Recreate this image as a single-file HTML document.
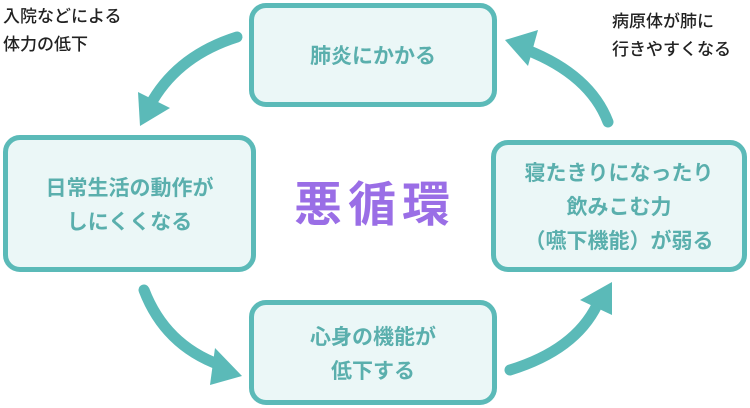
<!DOCTYPE html>
<html><head><meta charset="utf-8"><style>
body{margin:0;width:750px;height:408px;background:#fff;position:relative;overflow:hidden;font-family:"Liberation Sans","Noto Sans CJK JP",sans-serif}
.b{position:absolute;box-sizing:border-box;border:5px solid #5bbab8;background:#ebf7f7;border-radius:17px;display:flex;align-items:center;justify-content:center;text-align:center;color:#5aafad;font-size:21px;font-weight:bold;line-height:34px;font-family:"Noto Sans CJK JP",sans-serif}
.t{position:absolute;font-size:17px;color:#222;line-height:28px;font-weight:500;font-family:"Noto Sans CJK JP",sans-serif}
</style></head><body>
<svg width="750" height="408" style="position:absolute;left:0;top:0">
<g fill="none" stroke="#5bbab8" stroke-width="11" stroke-linecap="round">
<path d="M237 37 Q180 55 153 100"/>
<path d="M608 122 Q590 75 527 50"/>
<path d="M144 290 Q165 345 220 365"/>
<path d="M510 370 Q575 350 597 305"/>
</g>
<g fill="#5bbab8">
<polygon points="140,126 138,92 170,108"/>
<polygon points="505,40 538,30 528,66"/>
<polygon points="242,376 210,385 215,348"/>
<polygon points="612,282 612,315 580,300"/>
</g>
</svg>
<div class="t" style="left:3px;top:1px">入院などによる<br>体力の低下</div>
<div class="t" style="left:612px;top:6px">病原体が肺に<br>行きやすくなる</div>
<div class="b" style="left:249px;top:3px;width:248px;height:104px">肺炎にかかる</div>
<div class="b" style="left:3px;top:135px;width:253px;height:137px">日常生活の動作が<br>しにくくなる</div>
<div class="b" style="left:491px;top:140px;width:256px;height:132px">寝たきりになったり<br>飲みこむ力<br>（嚥下機能）が弱る</div>
<div class="b" style="left:249px;top:300px;width:248px;height:105px">心身の機能が<br>低下する</div>
<div style="position:absolute;left:270px;top:168px;width:210px;text-align:center;color:#9a6ee6;font-size:48px;font-weight:bold;letter-spacing:6px;line-height:64px;font-family:'Noto Sans CJK JP',sans-serif">悪循環</div>
</body></html>
